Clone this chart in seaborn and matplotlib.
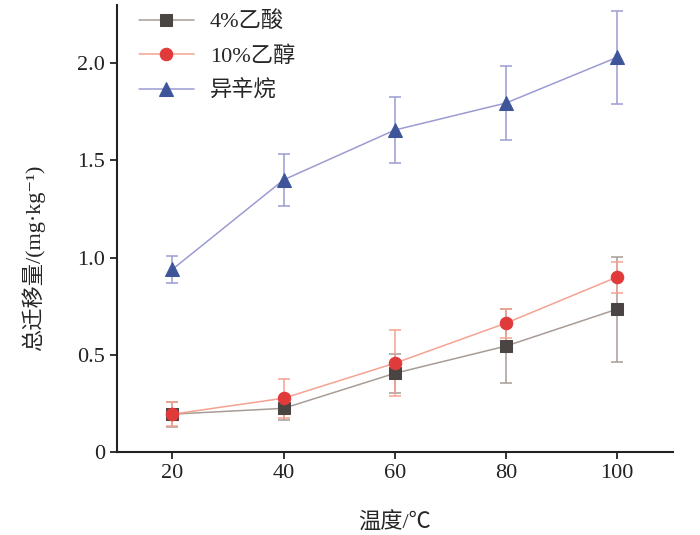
import matplotlib
matplotlib.use('Agg')
import matplotlib.pyplot as plt
import seaborn as sns
import pandas as pd

sns.set_style('ticks')
plt.rcParams['font.family'] = ['Liberation Serif', 'Noto Sans CJK SC', 'DejaVu Sans']

# 데이터
temp = [20, 40, 60, 80, 100]
acetic = [0.195, 0.225, 0.405, 0.545, 0.735]
acetic_err = [0.065, 0.06, 0.10, 0.19, 0.27]
ethanol = [0.195, 0.277, 0.457, 0.663, 0.90]
ethanol_err = [0.06, 0.10, 0.17, 0.075, 0.08]
isooctane = [0.94, 1.40, 1.656, 1.795, 2.03]
isooctane_err = [0.07, 0.135, 0.17, 0.19, 0.24]
labels = ['4%乙酸', '10%乙醇', '异辛烷']

series = [
    (labels[0], acetic, acetic_err, 's', 8, '#4a4442', '#a89c97'),
    (labels[1], ethanol, ethanol_err, 'o', 9, '#e03a3a', '#f5a292'),
    (labels[2], isooctane, isooctane_err, '^', 9.5, '#3f5599', '#9b9cd2'),
]

fig = plt.figure(figsize=(7, 5.35), dpi=100)
ax = fig.add_axes([0.167, 0.155, 0.794, 0.836])

for name, vals, err, mk, ms, mc, lc in series:
    df = pd.DataFrame({'temp': temp, 'val': vals})
    ax.errorbar(temp, vals, yerr=err, fmt='none', ecolor=lc, elinewidth=1.1,
                capsize=4, capthick=1.1, zorder=1)
    sns.lineplot(data=df, x='temp', y='val', ax=ax, color=lc, linewidth=1.1,
                 marker=mk, markersize=ms, markerfacecolor=mc, markeredgecolor=mc,
                 label=name, zorder=3)

ax.set_xlim(10, 110)
ax.set_ylim(0, 2.3)
ax.set_xticks(temp)
ax.set_yticks([0, 0.5, 1.0, 1.5, 2.0])
ax.set_yticklabels(['0', '0.5', '1.0', '1.5', '2.0'])
ax.tick_params(direction='out', length=5, width=1.3, labelsize=16, colors='#222222')
for s in ['top', 'right']:
    ax.spines[s].set_visible(False)
for s in ['left', 'bottom']:
    ax.spines[s].set_linewidth(1.5)
    ax.spines[s].set_color('#222222')

ax.set_xlabel('温度/℃', fontsize=16)
ax.set_ylabel('总迁移量/(mg·kg⁻¹)', fontsize=16)
ax.xaxis.set_label_coords(0.5, -0.135)
ax.yaxis.set_label_coords(-0.13, 0.434)

leg = ax.legend(loc='upper left', bbox_to_anchor=(0.003, 1.03), frameon=False,
                fontsize=16, handlelength=2.5, handletextpad=0.7, labelspacing=0.62)

fig.savefig('out.png', dpi=100)
